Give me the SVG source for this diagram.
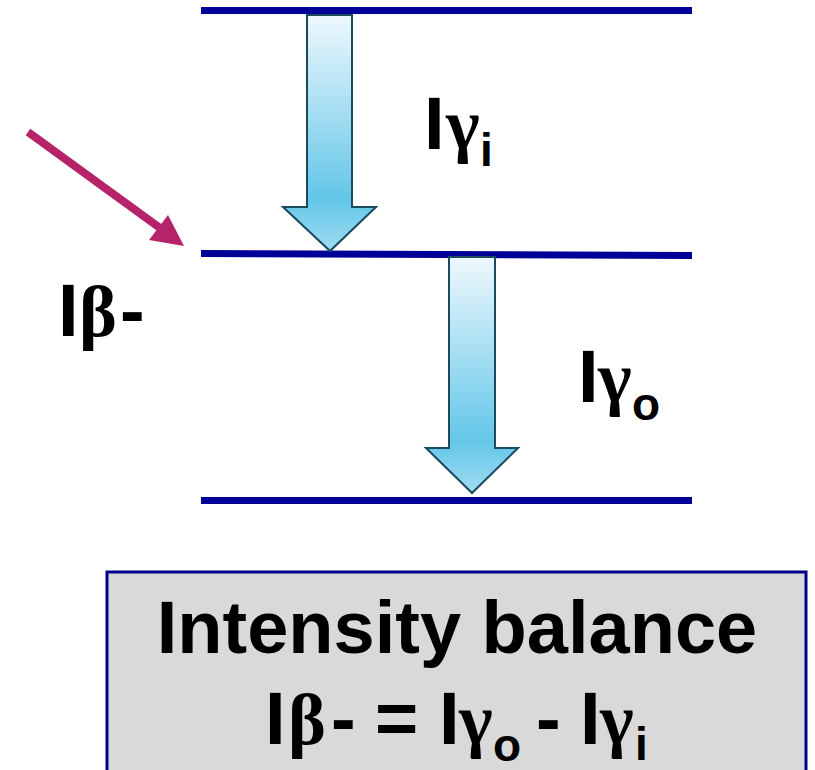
<svg xmlns="http://www.w3.org/2000/svg" width="815" height="770" viewBox="0 0 815 770">
<style>
.lvl{stroke:#000099;stroke-width:7;fill:none}
.blk{fill:url(#g);stroke:#1b4a5c;stroke-width:2;stroke-linejoin:miter}
.s{font-family:"Liberation Sans",Arial,sans-serif;font-weight:bold;fill:#000}
.g{font-family:"Liberation Serif","Times New Roman",serif;font-weight:bold;fill:#000}
</style>
<defs>
<linearGradient id="g" x1="0" y1="0" x2="0" y2="1">
<stop offset="0" stop-color="#eef8fd"/>
<stop offset="0.78" stop-color="#63c6e8"/>
<stop offset="1" stop-color="#a0dcf2"/>
</linearGradient>
</defs>
<rect width="815" height="770" fill="#fff"/>
<g id="levels">
<line class="lvl" x1="201" y1="10.5" x2="692" y2="10.5"/>
<line class="lvl" x1="201" y1="253.5" x2="692" y2="255.5"/>
<line class="lvl" x1="201" y1="500.5" x2="692" y2="500.5"/>
</g>
<g id="connectors">
<polygon id="gamma-in" class="blk" points="307,15 352,15 352,207 376,207 330,251 283,207 307,207"/>
<polygon id="gamma-out" class="blk" points="449,257 495,257 495,448 518,448 472,493 426,448 449,448"/>
<g id="beta-feed">
<line x1="28" y1="132" x2="160" y2="228" stroke="#b5236a" stroke-width="8"/>
<polygon points="184,246 149,240 168,215" fill="#b5236a"/>
</g>
</g>
<g id="label-gi">
<text class="s" x="424" y="149" font-size="74">I</text>
<text class="g" x="446" y="149" font-size="72">γ</text>
<text class="s" x="480" y="166" font-size="46">i</text>
</g>
<g id="label-go">
<text class="s" x="578" y="402" font-size="74">I</text>
<text class="g" x="598" y="402" font-size="72">γ</text>
<text class="s" x="632" y="420" font-size="46">o</text>
</g>
<g id="label-b">
<text class="s" x="58" y="336" font-size="74">I</text>
<text class="g" x="79" y="336" font-size="72">β</text>
<text class="s" x="120" y="336" font-size="74">-</text>
</g>
<g id="balance-box">
<rect x="107" y="572" width="699" height="220" fill="#d9d9d9" stroke="#00008b" stroke-width="3"/>
<text class="s" x="457" y="653" font-size="74" text-anchor="middle">Intensity balance</text>
<text class="s" x="265" y="744" font-size="74">I</text>
<text class="g" x="288" y="744" font-size="72">β</text>
<text class="s" x="331" y="744" font-size="74">-</text>
<text class="s" x="375" y="744" font-size="74">=</text>
<text class="s" x="439" y="744" font-size="74">I</text>
<text class="g" x="459" y="744" font-size="72">γ</text>
<text class="s" x="493" y="761" font-size="46">o</text>
<text class="s" x="536" y="744" font-size="74">-</text>
<text class="s" x="580" y="744" font-size="74">I</text>
<text class="g" x="600" y="744" font-size="72">γ</text>
<text class="s" x="635" y="760" font-size="46">i</text>
</g>
</svg>
